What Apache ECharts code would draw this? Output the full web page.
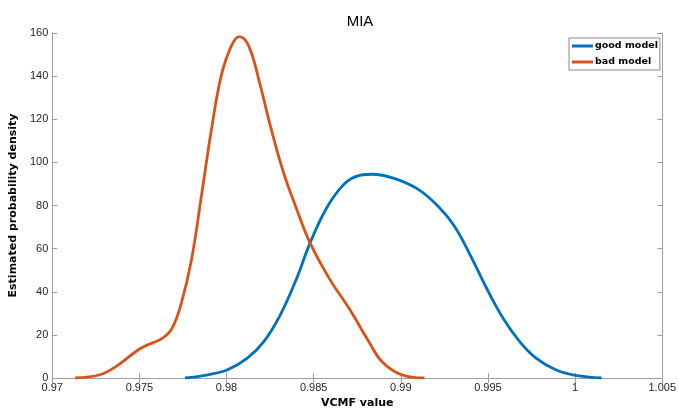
<!DOCTYPE html>
<html>
<head>
<meta charset="utf-8">
<script src="https://cdn.jsdelivr.net/npm/echarts@6/dist/echarts.min.js"></script>
<style>html,body{margin:0;padding:0;background:#fff}#c{width:679px;height:414px}</style>
</head>
<body>
<div id="c"></div>
<script>
const titleText = 'MIA';
const xLabel = 'VCMF value';
const yLabel = 'Estimated probability density';
const seriesNames = ['good model', 'bad model'];

const goodX = [0.97762,0.97894,0.98006,0.98119,0.98214,0.98308,0.98402,0.98477,0.98571,0.98665,0.9874,0.98835,0.98966,0.99098,0.99211,0.99305,0.99399,0.99493,0.99587,0.99682,0.99776,0.99889,1.00002,1.00152];
const goodY = [0,1.5,3.8,9.2,16.9,29.2,46.1,62.2,78.4,89.1,93.4,94.5,92.5,87.6,79.9,70.7,56.9,41.5,27.7,16.9,9.2,3.8,1.2,0];

const badX = [0.97131,0.97273,0.97367,0.97508,0.97631,0.97687,0.97743,0.978,0.97856,0.97913,0.97969,0.98026,0.98073,0.98129,0.98195,0.98252,0.98327,0.98402,0.98477,0.9859,0.98703,0.98816,0.98891,0.99004,0.99136];
const badY = [0,1.5,5.4,13.8,18.4,23,35.4,55.3,84.5,115,140,153.7,158.3,153.7,135.2,116.8,95.3,78.4,63,46.1,32.3,16.9,7.7,1.5,0];

const xMin = 0.97, xMax = 1.005, xStep = 0.005;
const yMin = 0, yMax = 160, yStep = 20;

const pair = (xs, ys) => xs.map((x, i) => [x, ys[i]]);
const axisColor = '#a0a0a0';
const labelColor = '#262626';
const font = 'Liberation Sans, Arial, sans-serif';

const chart = echarts.init(document.getElementById('c'));
chart.setOption({
  animation: false,
  title: { text: titleText, left: 355, top: 9, textAlign: 'center',
    textStyle: { fontFamily: font, fontWeight: 'normal', fontSize: 15, color: '#000' } },
  legend: {
    data: seriesNames, orient: 'vertical', left: 569, top: 38,
    itemWidth: 21, itemHeight: 3, itemGap: 6,
    padding: [3, 2, 3, 3],
    borderColor: '#8a8a8a', borderWidth: 1, backgroundColor: '#fff',
    icon: 'rect',
    textStyle: { fontFamily: 'DejaVu Sans, sans-serif', fontWeight: 'bold', fontSize: 9.5, color: '#000', padding: [0,0,0,-3] }
  },
  grid: { left: 46, right: 14, top: 33, bottom: 34, containLabel: false },
  xAxis: [
    { type: 'value', min: xMin, max: xMax, interval: xStep,
      name: xLabel, nameLocation: 'middle', nameGap: 20,
      nameTextStyle: { fontFamily: 'DejaVu Sans, sans-serif', fontWeight: 'bold', fontSize: 11, color: '#000' },
      axisLine: { lineStyle: { color: axisColor } },
      axisTick: { inside: true, length: 5, lineStyle: { color: axisColor } },
      axisLabel: { fontFamily: font, fontSize: 11, color: labelColor, margin: 4,
        formatter: v => String(+v.toFixed(3)) },
      splitLine: { show: false } },
    { type: 'value', position: 'top', min: xMin, max: xMax, interval: xStep,
      axisLine: { lineStyle: { color: axisColor } },
      axisTick: { inside: true, length: 5, lineStyle: { color: axisColor } },
      axisLabel: { show: false }, splitLine: { show: false } }
  ],
  yAxis: [
    { type: 'value', min: yMin, max: yMax, interval: yStep,
      name: yLabel, nameLocation: 'middle', nameGap: 24, nameRotate: 90,
      nameTextStyle: { fontFamily: 'DejaVu Sans, sans-serif', fontWeight: 'bold', fontSize: 11, color: '#000' },
      axisLine: { show: true, lineStyle: { color: axisColor } },
      axisTick: { show: true, inside: true, length: 5, lineStyle: { color: axisColor } },
      axisLabel: { fontFamily: font, fontSize: 11, color: labelColor, margin: 4 },
      splitLine: { show: false } },
    { type: 'value', position: 'right', min: yMin, max: yMax, interval: yStep,
      axisLine: { show: true, lineStyle: { color: axisColor } },
      axisTick: { show: true, inside: true, length: 5, lineStyle: { color: axisColor } },
      axisLabel: { show: false }, splitLine: { show: false } }
  ],
  series: [
    { name: seriesNames[0], type: 'line', data: pair(goodX, goodY), smooth: 0.4,
      showSymbol: false, symbol: 'none', color: '#0072BD', lineStyle: { width: 2.8, color: '#0072BD' } },
    { name: seriesNames[1], type: 'line', data: pair(badX, badY), smooth: 0.4,
      showSymbol: false, symbol: 'none', color: '#D95319', lineStyle: { width: 2.8, color: '#D95319' } }
  ]
});
</script>
</body>
</html>
